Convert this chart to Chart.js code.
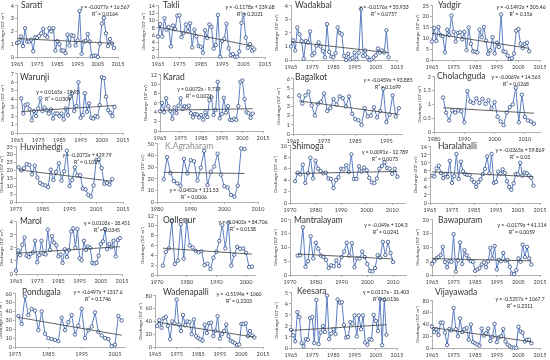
<!DOCTYPE html>
<html><head><meta charset="utf-8">
<script src="https://cdn.jsdelivr.net/npm/chart.js@4.4.1/dist/chart.umd.min.js"></script>
<style>
html,body{margin:0;padding:0;background:#fff}
body{width:550px;height:360px;overflow:hidden;position:relative;font-family:Lato,"Liberation Sans",sans-serif}
canvas{position:absolute}
.nm{position:absolute;white-space:nowrap;font-size:8.5px;color:#333;line-height:10px}
.eq{position:absolute;white-space:nowrap;font-size:5px;color:#222;line-height:6.5px;text-align:center;transform:translateX(-50%)}
</style>
</head><body>
<script>
// ---------- DATA ----------
const stationNames = ["Sarati","Takli","Wadakbal","Yadgir","Warunji","Karad","Bagalkot","Cholachguda",
  "Huvinhedgi","K.Agraharam","Shimoga","Haralahalli","Marol","Oollenur","Mantralayam","Bawapuram",
  "Pondugala","Wadenapalli","Keesara","Vijayawada"];
const startYears = [1965,1965,1965,1965,1967,1965,1967,1983,1976,1982,1972,1966,1965,1972,1973,1965,1976,1966,1965,1965];

const sarati = [1.1,1.15,1.6,0.85,2.25,1.2,1.2,1.35,0.45,1.55,1.5,1.65,1.85,2.2,1.7,1.55,2.25,2.0,2.25,0.5,1.25,1.0,0.5,0.5,0.3,1.75,0.9,1.7,1.65,0.9,1.3,3.6,0.25,1.2,1.25,1.8,1.2,0.05,0.1,0.1,0.0,1.05,2.6,3.05,1.85,0.85,1.4,1.05,0.7];
const takli = [5.6,9.0,5.6,10.6,7.5,8.2,2.9,8.6,7.6,11.3,11.4,5.4,6.6,8.9,7.0,9.2,2.6,7.5,5.6,3.0,2.8,1.2,7.3,5.2,8.9,8.2,2.3,3.3,11.5,0.1,4.4,5.0,9.1,2.4,0.5,0.8,0.1,0.1,1.5,9.3,11.6,5.3,2.5,3.5,1.7,2.1];
const wadakbal = [1.0,1.45,0.7,2.4,1.9,1.4,0.1,1.4,1.3,2.1,0.35,0.5,1.05,1.3,1.0,0.65,0.2,2.65,0.6,0.25,0.2,0.5,2.4,2.0,1.9,0.3,0.0,0.45,0.05,0.15,0.55,0.05,0.55,3.75,0.3,0.7,0.2,0.0,0.05,0.2,0.35,0.85,0.55,0.7,0.55,2.2,0.2];
const yadgir = [8.5,14.8,8.8,15.2,11.5,11.0,3.5,14.0,11.5,20.5,13.0,8.5,12.5,12.8,9.5,13.0,4.5,15.0,7.5,4.0,3.8,3.5,14.0,10.5,15.2,9.0,2.8,4.5,10.5,3.0,8.0,6.0,21.0,4.0,3.8,2.0,0.5,0.8,3.0,13.5,14.2,7.5,5.5,7.5,8.0,4.0];
const warunji = [4.1,2.3,3.3,3.4,2.8,1.5,2.6,2.0,2.9,4.1,2.6,3.0,2.7,2.3,2.8,1.7,2.3,2.3,2.0,2.3,1.6,2.9,2.1,4.3,4.7,2.6,3.2,6.0,1.8,2.1,4.7,2.5,3.5,1.8,1.7,2.0,1.9,3.3,6.6,6.5,4.3,2.7,2.4,2.0,3.1];
const karad = [4.2,6.0,4.0,7.0,5.3,4.3,2.6,5.0,3.8,5.4,7.0,4.7,5.3,5.1,5.4,3.8,2.9,3.6,3.5,2.9,3.4,2.4,4.0,3.0,6.6,7.2,3.4,4.5,10.5,2.7,3.6,7.1,3.9,5.3,2.4,2.3,2.6,2.4,5.3,10.5,10.8,6.8,4.0,3.8,2.8,3.7];
const bagalkot = [4.2,3.3,4.2,4.6,3.1,2.0,3.3,3.5,4.4,2.5,2.8,3.8,3.2,4.1,3.9,3.0,4.1,2.2,1.6,1.5,1.0,2.8,1.9,2.0,2.9,1.8,2.5,4.9,1.3,2.1,4.2,1.9,2.8];
const cholachguda = [1.25,0.7,0.42,0.78,0.7,0.78,0.75,0.35,1.48,1.1,1.05,1.22,1.05,1.2,1.02,1.15,0.85,1.08,0.55,0.38,0.25,0.7,0.9,1.0,1.6,0.35,1.35,0.55,0.42,0.38,0.3];
const huvinhedgi = [22,20,21.5,24,23.5,17.5,23,15.5,12,11,10.5,9.5,20.5,14,19,24.5,13.5,19.5,32.5,10,14,22,17,17,8.5,8,4.5,3.5,10.5,26.5,27,21.5,11.5,12,11,14.5];
const kAgraharam = [19.5,38.5,25,18,16,14,37,24.5,36,35,18.5,29.5,44,14.5,26,30.5,41.5,23.5,13.5,12.5,6,4.5,14,46,45.5];
const shimoga = [3.8,5.3,5.0,6.7,3.5,5.2,7.9,4.3,7.4,6.0,5.6,5.2,5.3,4.3,4.2,2.6,4.0,4.5,6.0,5.9,6.6,5.4,8.5,4.2,4.2,6.4,5.5,6.2,5.7,4.4,3.6,3.5,4.3,6.0,6.5,7.1,6.1,6.0,5.1,6.0,4.6];
const haralahalli = [6.8,6.6,8.6,9.3,7.5,6.2,7.2,6.5,10.5,5.0,6.7,12.2,6.0,10.3,7.9,7.2,7.0,7.0,5.8,5.2,4.0,5.2,5.9,7.2,8.5,11.6,7.4,12.2,5.0,5.2,7.8,7.3,8.4,7.5,5.4,4.0,3.3,4.9,7.2,7.1,10.0,6.8,7.6,7.4,6.8,6.3,4.3];
const marol = [0.25,1.8,1.45,2.25,2.8,1.4,1.3,1.55,1.65,2.55,0.9,1.45,2.55,1.55,1.5,3.4,1.85,2.9,2.4,2.2,1.35,1.5,0.85,1.9,1.3,1.85,3.25,3.5,2.0,3.45,1.2,1.05,2.55,1.85,2.1,2.0,0.85,0.8,0.85,1.4,2.3,2.5,3.45,1.9,2.3,2.05,2.55,1.35,2.6,2.75];
const oollenur = [1.9,4.7,5.4,10.9,2.2,2.9,10.3,3.3,10.8,6.0,5.6,4.9,4.6,4.8,2.0,2.3,1.2,3.5,4.7,6.9,10.1,5.4,10.6,1.9,4.1,5.7,5.3,5.4,4.5,1.6,1.7];
const mantralayam = [7.0,7.2,17.3,3.0,5.0,14.0,6.0,11.7,9.5,7.0,6.5,5.5,2.5,3.5,3.2,5.3,3.3,6.5,8.5,11.7,7.0,11.5,2.8,6.0,6.0,8.5,6.5,4.0,1.5,1.3,2.5,7.2,6.3,12.0,7.2,12.0,8.0,4.7];
const bawapuram = [4.0,5.0,6.0,6.5,7.2,10.2,4.7,2.8,5.0,4.8,14.8,1.2,5.3,11.8,4.0,9.0,7.2,5.8,5.0,4.8,1.5,2.0,2.5,3.8,4.5,2.8,5.0,9.8,6.0,10.5,2.0,5.5,5.0,8.0,5.2,5.5,3.0,0.5,0.3,1.7,6.0,4.8,11.0,6.5,10.2,6.0,3.8];
const pondugala = [35,26,57,36,43,41,19,40,15,10,9,8,6.5,33,19,28,36,14,24,43,10,19,23,39,17,13,10,9,1,2.5,35,30];
const wadenapalli = [33,42,30,45,47,33,12,40,37,74,35,25,50,34,40,39,20,43,17,14,12,10,35,22,37,38,17,25,48,13,20,25,35,17,10,8,6,3,4,36,36,37,17,25,18,15];
const keesara = [1.65,1.15,0.6,3.25,2.8,0.45,0.15,0.8,0.75,2.7,2.8,0.45,4.35,0.35,1.4,2.0,1.45,4.75,0.8,1.3,1.7,1.25,4.4,4.1,4.15,2.1,0.95,1.0,2.35,2.2,2.95,1.05,2.95,1.7,2.95,0.5,0.3,0.8,0.75,3.0,2.45,1.55,4.45,0.25,4.35,1.2];
const vijayawada = [36,27,32,22,43,43,26,5,32,30,68,32,20,50,27,32,34,14,40,10,8,6,4,33,21,25,33,12,19,41,10,18,20,32,11,6,3,1,0.5,0.5,36,28,26,11,14,14,8];

// trend line values at first and last year of each record
const trendFirst = [1.44,8.2,1.35,12.28,2.53,4.43,3.60,0.88,20.36,25.5,5.16,7.77,1.59,5.43,7.62,5.94,33.39,38.86,1.59,34.70];
const trendLast  = [1.07,2.9,0.54,5.38,3.25,4.75,2.13,0.68,13.11,24.5,5.52,6.55,2.09,4.23,5.81,5.12,13.25,15.49,2.11,10.52];

const equations = ["y = -0.0077x + 16.567","y = -0.1178x + 239.68","y = -0.0176x + 35.933","y = -0.1492x + 305.46",
  "y = 0.0165x - 29.93","y = 0.0072x - 9.719","y = -0.0459x + 93.885","y = -0.0069x + 14.565",
  "y = -0.2072x + 429.79","y = -0.0452x + 111.53","y = 0.0091x - 12.789","y = -0.0265x + 59.869",
  "y = 0.0102x - 18.451","y = -0.0402x + 84.706","y = -0.049x + 104.3","y = -0.0179x + 41.114",
  "y = -0.6497x + 1317.6","y = -0.5194x + 1060","y = 0.0117x - 21.403","y = -0.5257x + 1067.7"];
const r2Labels = ["R² = 0.0164","R² = 0.2021","R² = 0.0757","R² = 0.156","R² = 0.0304","R² = 0.0021","R² = 0.1699","R² = 0.0268",
  "R² = 0.1027","R² = 0.0006","R² = 0.0073","R² = 0.03","R² = 0.0345","R² = 0.0158","R² = 0.0241","R² = 0.0059",
  "R² = 0.1746","R² = 0.2203","R² = 0.0136","R² = 0.2311"];

const yMax  = [4,14,4,25,7,12,6,2,35,50,10,14,4,12,20,20,60,80,5,80];
const yStep = [1,2,1,5,1,2,1,0.5,5,10,2,2,1,2,5,5,10,20,1,20];
const xMin  = [1965,1965,1965,1965,1965,1965,1965,1980,1975,1980,1970,1965,1965,1970,1970,1965,1975,1965,1965,1965];
const xMax  = [2015,2015,2015,2015,2015,2015,2000,2015,2015,2010,2015,2015,2015,2003,2015,2015,2008,2015,2015,2015];
const xTicksA = [1965,1975,1985,1995,2005,2015];
const xTicksB = [1965,1975,1985,1995];
const xTicksC = [1980,1990,2000,2010];
const xTicksD = [1975,1985,1995,2005,2015];
const xTicksE = [1970,1980,1990,2000,2010];
const xTicksF = [1970,1980,1990,2000];
const xTicksG = [1975,1985,1995,2005];
const xTickSets = [xTicksA,xTicksA,xTicksA,xTicksA,xTicksA,xTicksA,xTicksB,xTicksC,xTicksD,xTicksC,xTicksE,xTicksA,xTicksA,xTicksF,xTicksE,xTicksA,xTicksG,xTicksA,xTicksA,xTicksA];
const yTitle = "Discharge (10³ m³)";

const seriesValues = [sarati,takli,wadakbal,yadgir,warunji,karad,bagalkot,cholachguda,huvinhedgi,kAgraharam,
  shimoga,haralahalli,marol,oollenur,mantralayam,bawapuram,pondugala,wadenapalli,keesara,vijayawada];

// ---------- LAYOUT (page px) ----------
const plotBoxes = [ // left, top, right, bottom of plot area
  [17,5,118,57],[158,5,265,57],[291,5,397,60],[432,5,540,60],
  [17,73,123,133],[160,74,263,131],[293,78,402,134],[434,76,540,132],
  [16,146,123,202],[157,143,258,202],[290,145,405,203],[430,146,540,203],
  [16,221,122,274],[157,215,255,275],[290,219,406,275],[432,219,540,275],
  [15,293,125,347],[155,295,263,347],[291,292,397,348],[432,300,540,348]];
const namePos = [[21,0],[163,0],[295,0],[438,0],[20,72],[163,72],[295,72],[437,71],
  [20,142],[165,141],[292,141],[438,141],[20,216],[163,215],[294,215],[438,215],
  [22,287],[163,287],[297,286],[435,287]];
const eqPos = [[105,4],[250,4],[384,4],[521,4],[58,89],[199,86],[388,77],[516,74],
  [87,152],[194,187],[385,149],[520,147],[107,220],[243,219],[386,222],[522,222],
  [98,289],[239,291],[386,289],[520,296]];

const LP=17, RP=8, TP=4, BP=12;
Chart.defaults.font.family = 'Lato, "Liberation Sans", sans-serif';
Chart.defaults.color = '#404040';

seriesValues.forEach((vals,i)=>{
  const [L,T,R,B] = plotBoxes[i];
  const w = R-L+LP+RP, h = B-T+TP+BP;
  const c = document.createElement('canvas');
  c.width = w; c.height = h;
  c.style.left = (L-LP)+'px'; c.style.top = (T-TP)+'px';
  c.style.width = w+'px'; c.style.height = h+'px';
  document.body.appendChild(c);
  const s = startYears[i];
  const pts = vals.map((v,k)=>({x:s+k,y:v}));
  const lastYear = s+vals.length-1;
  const ticksX = xTickSets[i];
  new Chart(c,{
    type:'line',
    data:{datasets:[
      {data:pts,borderColor:'#5b7fc2',borderWidth:1,pointRadius:1.7,pointBackgroundColor:'#ffffff',
       pointBorderColor:'#2b4a87',pointBorderWidth:0.8,tension:0,clip:false,order:1},
      {data:[{x:s,y:trendFirst[i]},{x:lastYear,y:trendLast[i]}],borderColor:'#3c3c3c',borderWidth:0.8,
       pointRadius:0,tension:0,clip:false,order:0}
    ]},
    options:{
      responsive:false,animation:false,events:[],
      layout:{padding:{left:0,right:RP,top:TP,bottom:0}},
      plugins:{legend:{display:false},tooltip:{enabled:false}},
      scales:{
        x:{type:'linear',min:xMin[i],max:xMax[i],
           afterBuildTicks:sc=>{sc.ticks = ticksX.map(v=>({value:v}));},
           afterFit:sc=>{sc.height = BP;},
           ticks:{autoSkip:false,maxRotation:0,padding:1.5,font:{size:5.5},callback:v=>String(v)},
           grid:{drawOnChartArea:false,tickLength:2,color:'#9a9a9a',lineWidth:0.8},
           border:{color:'#9a9a9a',width:0.8}},
        y:{min:0,max:yMax[i],
           afterFit:sc=>{sc.width = LP;},
           ticks:{autoSkip:false,stepSize:yStep[i],padding:1,font:{size:5.5},callback:v=>String(v)},
           title:{display:true,text:yTitle,font:{size:4.6},padding:{top:0,bottom:0}},
           grid:{drawOnChartArea:false,tickLength:2,color:'#9a9a9a',lineWidth:0.8},
           border:{color:'#9a9a9a',width:0.8}}
      }
    }
  });
  const n = document.createElement('div');
  n.className='nm'; n.textContent = stationNames[i];
  n.style.left = namePos[i][0]+'px'; n.style.top = namePos[i][1]+'px';
  if (i===9) n.style.color = '#8f8f8f';
  document.body.appendChild(n);
  const e = document.createElement('div');
  e.className='eq';
  e.innerHTML = equations[i] + '<br>' + r2Labels[i];
  e.style.left = eqPos[i][0]+'px'; e.style.top = eqPos[i][1]+'px';
  document.body.appendChild(e);
});
</script>
</body></html>
